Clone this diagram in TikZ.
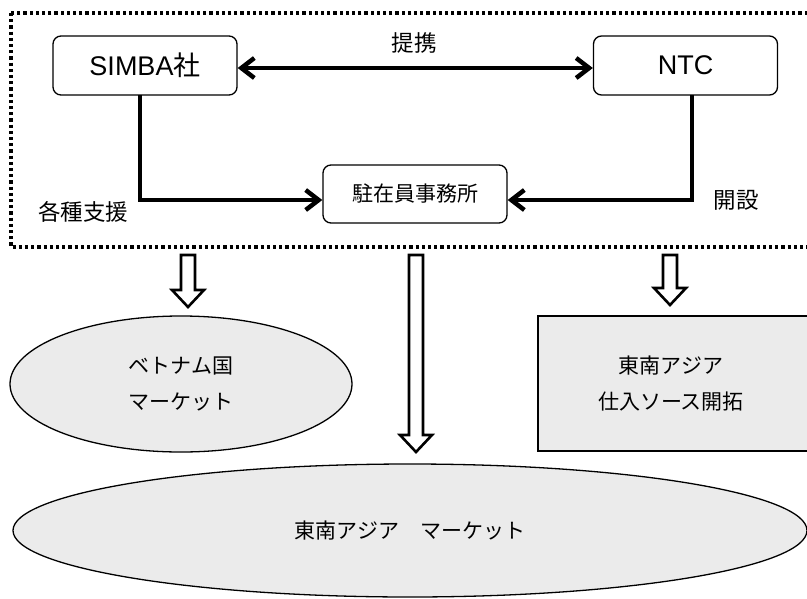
\documentclass[tikz,border=0pt]{standalone}
\usepackage{fontspec}
\setmainfont{Liberation Sans}
\newfontfamily\jp{Noto Sans CJK JP}
\usetikzlibrary{arrows.meta,shapes.geometric}
\definecolor{shapegray}{HTML}{EBEBEB}
\begin{document}
\begin{tikzpicture}[x=1pt,y=-1pt,
  roundbox/.style={draw,line width=1.3pt,rounded corners=8pt,minimum width=184pt,inner sep=0pt},
  bigfont/.style={font=\fontsize{27}{30}\selectfont},
  lblfont/.style={font=\jp\fontsize{22.5}{26}\selectfont,inner sep=0pt},
  lowfont/.style={font=\jp\fontsize{21}{36}\selectfont,align=center},
  link/.style={line width=4.5pt,-{Straight Barb[length=13pt,width=20pt]}},
  frame/.style={line width=3.4pt,dash pattern=on 3.2pt off 3pt},
  grayshape/.style={draw,line width=1.3pt,fill=shapegray,inner sep=0pt},
  pics/harrow/.style={code={\draw[line width=2.6pt,fill=white] (-7,0) -- (-7,#1-17) -- (-16,#1-17) -- (0,#1) -- (16,#1-17) -- (7,#1-17) -- (7,0) -- cycle;}}
]
\useasboundingbox (0,0) rectangle (807,598);
% dotted frame
\draw[frame] (11,13) rectangle (814,247);
% nodes
\node[roundbox,minimum height=59pt,bigfont] (simba) at (145,65.5) {SIMBA{\jp 社}};
\node[roundbox,minimum height=59pt,bigfont] (ntc) at (685.5,65.5) {NTC};
\node[roundbox,minimum height=58pt,font=\jp\fontsize{21}{24}\selectfont] (office) at (415,194) {駐在員事務所};
% connectors
\draw[line width=4.5pt,{Straight Barb[length=13pt,width=20pt]}-{Straight Barb[length=13pt,width=20pt]}] ([yshift=-2.5pt]simba.east) -- ([yshift=-2.5pt]ntc.west);
\coordinate (s1) at (140,95);
\coordinate (n1) at (692,95);
\draw[link] (s1) |- ([yshift=-6pt]office.west);
\draw[link] (n1) |- ([yshift=-6pt]office.east);
% labels
\node[lblfont] (l1) at (414,43) {提携};
\node[lblfont] (l2) at (83,212) {各種支援};
\node[lblfont] (l3) at (736,200) {開設};
% lower shapes
\node[grayshape,ellipse,minimum width=342pt,minimum height=136pt,lowfont] (viet) at (181,384) {ベトナム国\\マーケット};
\node[grayshape,rectangle,minimum width=276pt,minimum height=135pt,lowfont] (source) at (676,383.5) {東南アジア\hspace*{10pt}\\仕入ソース開拓\hspace*{10pt}};
\node[grayshape,ellipse,minimum width=794pt,minimum height=133pt,lowfont] (sea) at (410,530.5) {東南アジア　マーケット};
% hollow arrows
\pic at (188,255) {harrow=52};
\pic at (416,255) {harrow=197};
\pic at (670,255) {harrow=50};
\end{tikzpicture}
\end{document}
